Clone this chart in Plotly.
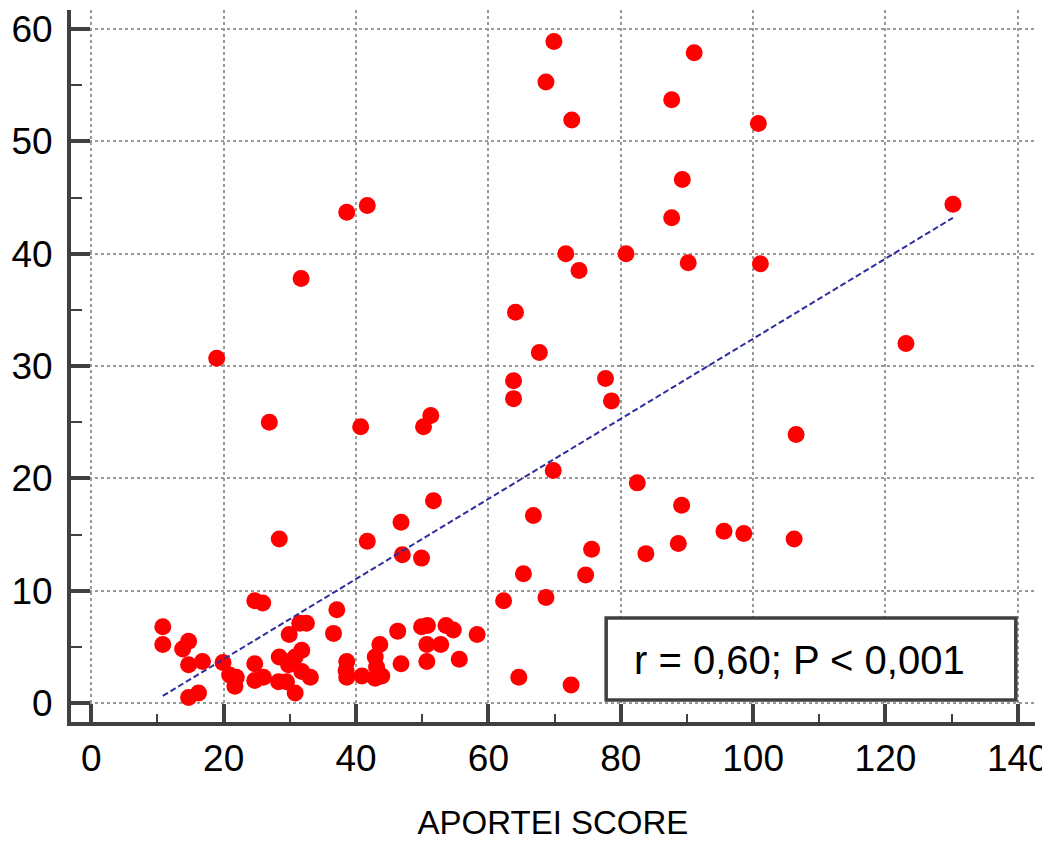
import plotly.graph_objects as go

# APORTEI score (x) vs outcome (y)
aportei_score = [
    69.9, 91.1, 68.7, 87.7, 72.6, 100.8, 89.3, 87.7, 71.7, 73.7, 80.8, 90.2, 101.1, 130.2, 123.1,
    64.1, 67.7, 63.8, 63.8, 77.7, 78.6, 106.5, 69.8, 82.5, 66.8, 89.2, 95.6, 98.6, 106.2, 75.6,
    88.7, 83.8, 65.3, 74.7, 62.3, 68.7, 64.6, 72.5,
    38.6, 41.7, 31.7, 18.95, 26.9, 40.7, 51.3, 50.2, 51.7, 46.8, 28.4, 41.7, 47.0, 49.9, 24.7,
    25.9, 37.1,
    10.8, 10.8, 14.7, 13.8, 14.7, 16.8, 19.9, 14.7, 16.2, 20.9, 21.9, 21.7, 24.7, 24.7, 26.0,
    28.4, 28.3, 29.9, 30.8, 31.8, 29.8, 31.8, 29.5, 30.8, 33.1, 31.5, 32.5, 36.6,
    38.6, 38.6, 38.5, 40.9, 42.9, 43.6, 43.1, 43.9, 42.9, 46.3, 46.8, 49.9, 50.8, 50.7, 50.7,
    52.8, 53.6, 54.7, 55.6, 58.3,
]
outcome = [
    58.9, 57.9, 55.3, 53.7, 51.9, 51.6, 46.6, 43.2, 40.0, 38.5, 40.0, 39.2, 39.1, 44.4, 32.0,
    34.8, 31.2, 28.7, 27.1, 28.9, 26.9, 23.9, 20.7, 19.6, 16.7, 17.6, 15.3, 15.1, 14.6, 13.7,
    14.2, 13.3, 11.5, 11.4, 9.1, 9.4, 2.3, 1.6,
    43.7, 44.3, 37.8, 30.7, 25.0, 24.6, 25.6, 24.6, 18.0, 16.1, 14.6, 14.4, 13.2, 12.9, 9.1,
    8.9, 8.3,
    6.8, 5.2, 5.5, 4.8, 3.4, 3.7, 3.6, 0.5, 0.9, 2.5, 2.3, 1.5, 3.5, 2.0, 2.3,
    4.1, 1.9, 6.1, 4.1, 4.7, 3.4, 2.8, 1.9, 0.9, 2.3, 7.1, 7.1, 6.2,
    3.7, 2.3, 2.9, 2.4, 4.1, 5.2, 3.2, 2.4, 2.2, 6.4, 3.5, 6.8, 6.9, 5.2, 3.7,
    5.2, 6.9, 6.5, 3.9, 6.1,
]

# regression line
fit_slope = 0.3565
fit_intercept = -3.22
stats_text = "r = 0,60; P < 0,001"

x_ticks = [0, 20, 40, 60, 80, 100, 120, 140]
y_ticks = [0, 10, 20, 30, 40, 50, 60]
x_title = "APORTEI SCORE"

fx = [min(aportei_score), max(aportei_score)]
fy = [fit_intercept + fit_slope * v for v in fx]

FONT = "Liberation Sans, Arial, sans-serif"
AX = "#404040"

fig = go.Figure()
fig.add_trace(go.Scatter(
    x=aportei_score, y=outcome, mode="markers",
    marker=dict(color="#FF0000", size=17, line=dict(width=0)),
    showlegend=False, hoverinfo="x+y",
))
fig.add_trace(go.Scatter(
    x=fx, y=fy, mode="lines",
    line=dict(color="#2E2E9E", width=2, dash="6px,3px"),
    showlegend=False, hoverinfo="skip",
))

fig.add_shape(type="rect", xref="x", yref="y", x0=77.8, x1=139.7, y0=0.27, y1=7.57,
              line=dict(color=AX, width=3.5), fillcolor="white", layer="above")
fig.add_annotation(x=107.0, y=3.83, xref="x", yref="y", text=stats_text, showarrow=False,
                   font=dict(family=FONT, size=40, color="black"))

# page body has an 8px margin, so the figure is 8px smaller and margins shifted
fig.update_layout(
    width=1042, height=833,
    margin=dict(l=63, r=15, t=2, b=119, autoexpand=False),
    paper_bgcolor="white", plot_bgcolor="white",
    font=dict(family=FONT, color="black"),
)
fig.update_xaxes(
    range=[-3.07, 142.6], tickvals=x_ticks, ticktext=[str(v) for v in x_ticks],
    showline=True, linecolor=AX, linewidth=4,
    ticks="inside", ticklen=18, tickwidth=4, tickcolor=AX,
    minor=dict(dtick=10, tick0=0, ticks="inside", ticklen=8, tickwidth=2, tickcolor=AX, showgrid=False),
    showgrid=True, gridcolor="#999999", gridwidth=2, griddash="dot", zeroline=False,
    tickfont=dict(family=FONT, size=37, color="black"), ticklabelstandoff=1,
    title=dict(text=x_title, font=dict(family=FONT, size=33, color="black"), standoff=33),
    automargin=False,
)
fig.update_yaxes(
    range=[-1.69, 61.7], tickvals=y_ticks, ticktext=[str(v) for v in y_ticks],
    showline=True, linecolor=AX, linewidth=4,
    ticks="inside", ticklen=19, tickwidth=4, tickcolor=AX,
    minor=dict(dtick=5, tick0=0, ticks="inside", ticklen=11, tickwidth=2, tickcolor=AX, showgrid=False),
    showgrid=True, gridcolor="#999999", gridwidth=2, griddash="dot", zeroline=False,
    tickfont=dict(family=FONT, size=37, color="black"), ticklabelstandoff=7,
    automargin=False,
)

fig.write_html("out.html")
